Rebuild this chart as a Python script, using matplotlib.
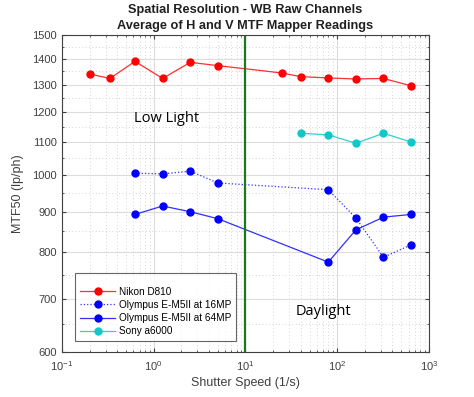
import matplotlib
matplotlib.use("Agg")
import matplotlib.pyplot as plt
from matplotlib.ticker import FixedLocator, NullFormatter, LogLocator, LogFormatterMathtext

plt.rcParams["font.family"] = ["Liberation Sans", "DejaVu Sans"]
plt.rcParams["mathtext.fontset"] = "custom"
plt.rcParams["mathtext.rm"] = "Liberation Sans"
plt.rcParams["mathtext.it"] = "Liberation Sans"

# shutter speeds (1/s) and MTF50 readings
nikon_x = [0.2, 0.333, 0.625, 1.25, 2.5, 5, 25, 40, 80, 160, 320, 640]
nikon_y = [1340, 1323, 1390, 1323, 1386, 1373, 1344, 1330, 1325, 1321, 1323, 1295]

oly_x = [0.625, 1.25, 2.5, 5, 80, 160, 320, 640]
oly16_y = [1006, 1004, 1012, 978, 959, 884, 789, 818]
oly64_y = [893, 915, 900, 882, 778, 854, 886, 893]

sony_x = [40, 80, 160, 320, 640]
sony_y = [1129, 1124, 1097, 1129, 1101]

y_ticks = [600, 700, 800, 900, 1000, 1100, 1200, 1300, 1400, 1500]
y_minor = [650, 750, 850, 950, 1050, 1150, 1250, 1350, 1450]

fig = plt.figure(figsize=(4.74, 3.97), dpi=100)
ax = fig.add_axes([0.1308, 0.1134, 0.774, 0.7984])

ax.plot(nikon_x, nikon_y, color="#ff3030", lw=0.9, marker="o", ms=5,
        mfc="red", mec="red", label="Nikon D810")
ax.plot(oly_x, oly16_y, color="#3030ff", lw=0.9, ls=":", marker="o", ms=5,
        mfc="blue", mec="blue", label="Olympus E-M5II at 16MP")
ax.plot(oly_x, oly64_y, color="#3030ff", lw=0.9, marker="o", ms=5,
        mfc="blue", mec="blue", label="Olympus E-M5II at 64MP")
ax.plot(sony_x, sony_y, color="#30d0d0", lw=0.9, marker="o", ms=5,
        mfc="#10c8c8", mec="#10c8c8", label="Sony a6000")

ax.axvline(10, color="#1a7a1a", lw=1.6)

ax.set_xscale("log")
ax.set_yscale("log")
ax.set_xlim(0.1, 1000)
ax.set_ylim(600, 1500)

ax.yaxis.set_major_locator(FixedLocator(y_ticks))
ax.yaxis.set_minor_locator(FixedLocator(y_minor))
ax.set_yticklabels([str(v) for v in y_ticks])
ax.yaxis.set_minor_formatter(NullFormatter())
ax.xaxis.set_major_locator(LogLocator(base=10, numticks=10))
ax.xaxis.set_major_formatter(LogFormatterMathtext())
ax.xaxis.set_minor_locator(LogLocator(base=10, subs=range(2, 10), numticks=20))
ax.xaxis.set_minor_formatter(NullFormatter())

ax.grid(True, which="major", color="#dcdcdc", lw=0.8)
ax.grid(True, which="minor", color="#c8c8c8", lw=0.6, ls=(0, (1, 3)))
ax.set_axisbelow(True)

ax.tick_params(which="both", direction="in", top=True, right=True,
               colors="#404040", labelsize=8, labelcolor="#404040")
ax.tick_params(which="major", length=3)
ax.tick_params(which="minor", length=1.5)
ax.tick_params(axis="x", which="major", pad=5)
for s in ax.spines.values():
    s.set_color("#404040")
    s.set_linewidth(0.8)

ax.set_xlabel("Shutter Speed (1/s)", fontsize=9, color="#404040", labelpad=3)
ax.set_ylabel("MTF50 (lp/ph)", fontsize=9, color="#404040", labelpad=6)
ax.set_title("Spatial Resolution - WB Raw Channels\nAverage of H and V MTF Mapper Readings",
             fontsize=9.2, fontweight="bold", color="#202020", pad=4, linespacing=1.55)

ax.text(1.38, 1180, "Low Light", fontsize=10.5, family="Open Sans", ha="center", va="center")
ax.text(70, 675, "Daylight", fontsize=10.5, family="Open Sans", ha="center", va="center")

leg = ax.legend(loc="lower left", bbox_to_anchor=(0.022, 0.018), fontsize=7.2,
                title=" ", title_fontsize=3.5,
                frameon=True, fancybox=False, edgecolor="#404040",
                handlelength=3.5, borderpad=0.5, labelspacing=0.32, handletextpad=0.4)
leg.get_frame().set_linewidth(0.8)

fig.savefig("out.png", dpi=100)
